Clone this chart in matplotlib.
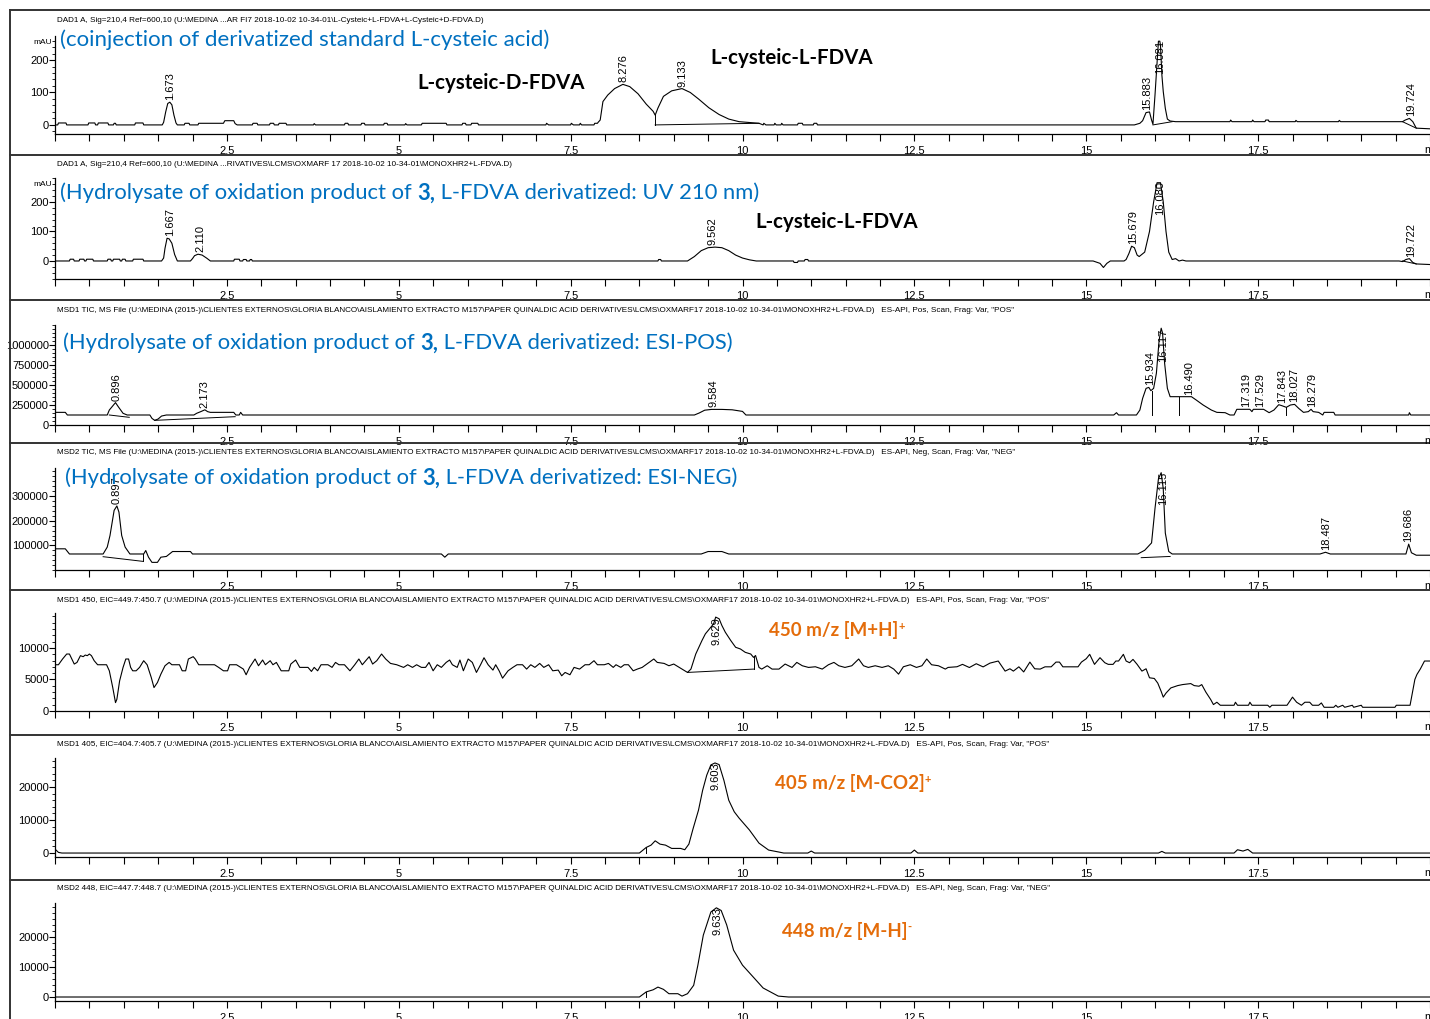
import matplotlib.pyplot as plt
from matplotlib import font_manager
from matplotlib.lines import Line2D
from matplotlib.ticker import FixedLocator, MultipleLocator

installed = {f.name for f in font_manager.fontManager.ttflist}
NARROW = 'Liberation Sans Narrow' if 'Liberation Sans Narrow' in installed else 'Liberation Sans'
HEADER_SIZE = 7 if NARROW == 'Liberation Sans Narrow' else 5.85
TITLE_FONT = ['Lato', 'DejaVu Sans']
plt.rcParams['font.family'] = [NARROW, 'DejaVu Sans']

BLUE = '#0070C0'
ORANGE = '#E46C0A'

# ---------------- data (time in min, signal) ----------------
# DAD1 A, coinjection of standards (mAU)
p1_t = [0.00, 0.04, 0.05, 0.16, 0.17, 0.48, 0.49, 0.58, 0.59, 0.62, 0.63, 0.77, 0.78, 0.85, 0.86, 0.88, 0.89,
        1.16, 1.17, 1.28, 1.29, 1.56, 1.58, 1.61, 1.64, 1.67, 1.70, 1.73, 1.76, 1.78, 1.88, 1.89, 1.95, 1.96,
        2.08, 2.09, 2.45, 2.47, 2.60, 2.62, 2.65, 2.87, 2.88, 2.94, 2.95, 3.12, 3.13, 3.18, 3.19, 3.25, 3.26,
        3.36, 3.37, 3.76, 3.77, 3.79, 4.21, 4.22, 4.26, 4.27, 4.45, 4.46, 4.50, 4.51, 4.78, 4.79, 4.83, 4.84,
        5.09, 5.10, 5.12, 5.33, 5.34, 5.69, 5.70, 5.92, 5.93, 5.97, 5.98, 6.05, 6.06, 6.15, 6.16, 7.14, 7.15,
        7.18, 7.50, 7.51, 7.54, 7.63, 7.64, 7.66, 7.84, 7.85, 7.89, 7.90, 7.93, 7.97, 8.04, 8.14, 8.26, 8.36,
        8.48, 8.60, 8.70, 8.73, 8.77, 8.85, 8.97, 9.12, 9.24, 9.36, 9.51, 9.66, 9.80, 9.95, 10.12, 10.24,
        10.30, 10.31, 10.34, 10.46, 10.47, 10.49, 10.56, 10.57, 10.59, 10.80, 10.81, 10.87, 10.88, 11.03,
        11.04, 11.08, 11.09, 15.70, 15.78, 15.82, 15.87, 15.92, 15.95, 15.97, 16.00, 16.02, 16.04, 16.05,
        16.07, 16.08, 16.10, 16.12, 16.15, 16.18, 16.22, 16.30, 17.09, 17.10, 17.12, 17.41, 17.42, 17.44,
        17.60, 17.61, 17.65, 17.66, 18.04, 18.05, 18.07, 18.67, 18.68, 18.70, 19.60, 19.64, 19.70, 19.75,
        19.80, 20.00]
p1_y = [0, 0, 6, 6, 0, 0, 6, 6, 0, 0, 6, 6, 0, 0, 5, 5, 0,
        0, 6, 6, 0, 0, 8, 40, 66, 70, 62, 30, 6, 0, 0, 5, 5, 0,
        0, 5, 5, 13, 13, 4, 0, 0, 5, 5, 0, 0, 5, 5, 0, 0, 5,
        5, 0, 0, 4, 0, 0, 5, 5, 0, 0, 5, 5, 0, 0, 5, 5, 0,
        0, 4, 0, 0, 5, 5, 0, 0, 5, 5, 0, 0, 5, 5, 0, 0, 5,
        0, 0, 5, 0, 0, 5, 0, 0, 5, 5, 8, 15, 72, 92, 112, 125, 118,
        96, 64, 42, 30, 52, 88, 105, 112, 100, 80, 53, 32, 18, 10, 7, 5,
        0, 5, 0, 0, 5, 0, 0, 5, 0, 0, 5, 5, 0, 0,
        5, 5, 0, 0, 5, 13, 38, 40, 15, 2, 92, 160, 225, 258,
        258, 245, 154, 103, 51, 18, 12, 10, 10, 15, 10, 10, 15, 10,
        10, 15, 15, 10, 10, 14, 10, 10, 14, 10, 10, 15, 20, 10,
        -10, -12]
p1_base = [(8.73, 0, 8.73, 30), (8.73, 0, 10.24, 5), (15.97, 0, 16.25, 10), (19.60, 10, 19.80, -10)]
p1_peaks = [('1.673', 1.673, 70), ('8.276', 8.276, 125), ('9.133', 9.133, 112),
            ('15.883', 15.883, 40), ('16.081', 16.081, 258), ('19.724', 19.724, 20)]

# DAD1 A, hydrolysate UV 210 nm (mAU)
p2_t = [0.00, 0.21, 0.22, 0.27, 0.28, 0.35, 0.36, 0.42, 0.43, 0.45, 0.46, 0.55, 0.56, 0.76, 0.77, 0.81, 0.82,
        0.84, 0.85, 0.94, 0.95, 0.97, 0.98, 1.02, 1.03, 1.13, 1.14, 1.28, 1.29, 1.55, 1.58, 1.60, 1.63, 1.66,
        1.70, 1.74, 1.78, 1.97, 2.00, 2.03, 2.08, 2.14, 2.21, 2.26, 2.60, 2.61, 2.68, 2.69, 2.73, 2.74, 2.78,
        2.79, 2.83, 2.84, 2.86, 2.87, 8.77, 8.78, 8.81, 8.82, 9.20, 9.30, 9.40, 9.50, 9.60, 9.70, 9.80, 9.90,
        10.00, 10.10, 10.20, 10.74, 10.75, 10.80, 10.81, 10.90, 10.91, 10.95, 10.96, 15.10, 15.20, 15.25,
        15.30, 15.35, 15.55, 15.58, 15.62, 15.66, 15.70, 15.74, 15.77, 15.85, 15.92, 15.98, 16.03, 16.08,
        16.12, 16.16, 16.20, 16.25, 16.30, 16.35, 16.40, 16.45, 19.55, 19.60, 19.65, 19.70, 19.75, 19.80,
        20.00]
p2_y = [0, 0, 6, 6, 0, 0, 6, 6, 0, 0, 6, 6, 0, 0, 6, 6, 0,
        0, 6, 6, 0, 0, 6, 6, 0, 0, 6, 6, 0, 0, 10, 43, 77, 75,
        60, 22, 0, 0, 8, 18, 23, 20, 9, 0, 0, 6, 6, 0, 0, 5, 5,
        0, 0, 5, 5, 0, 0, 5, 5, 0, 0, 15, 35, 45, 47, 45, 35, 20,
        10, 4, 0, 0, -5, -5, 0, 0, 5, 5, 0, 0, -8, -22,
        -8, 0, 0, 5, 25, 50, 45, 20, 15, 30, 100, 200, 265, 265,
        200, 100, 30, 5, 8, 0, 3, 0, 0, -2, 5, 8, -5, -10,
        -12]
p2_base = [(19.60, 0, 19.80, -10)]
p2_peaks = [('1.667', 1.667, 77), ('2.110', 2.110, 23), ('9.562', 9.562, 47),
            ('15.679', 15.679, 50), ('16.080', 16.080, 265), ('19.722', 19.722, 8)]

# MSD1 TIC, ESI-POS (counts)
p3_t = [0.00, 0.15, 0.18, 0.76, 0.79, 0.88, 0.92, 0.99, 1.05, 1.38, 1.41, 1.45, 1.50, 1.55, 1.62, 2.02, 2.06,
        2.12, 2.18, 2.22, 2.26, 2.60, 2.63, 2.68, 2.70, 2.73, 9.30, 9.37, 9.45, 9.55, 9.70, 9.85, 10.00, 10.05,
        15.40, 15.44, 15.47, 15.73, 15.78, 15.82, 15.87, 15.91, 15.94, 15.98, 16.02, 16.06, 16.09, 16.11,
        16.14, 16.18, 16.22, 16.27, 16.53, 16.60, 16.70, 16.82, 16.90, 17.02, 17.09, 17.15, 17.19, 17.38,
        17.41, 17.43, 17.58, 17.66, 17.73, 17.80, 17.85, 17.91, 17.97, 18.03, 18.09, 18.16, 18.23, 18.27,
        18.30, 18.38, 18.44, 18.46, 18.60, 18.62, 19.69, 19.70, 19.72, 20.00]
p3_y = [158000, 158000, 125000, 125000, 187000, 280000, 229000, 146000, 125000, 125000, 83000, 58000, 75000,
        112000, 125000, 125000, 146000, 167000, 190000, 167000, 158000, 158000, 125000, 125000, 158000, 125000,
        125000, 150000, 185000, 195000, 195000, 190000, 170000, 125000, 125000, 154000, 125000, 125000, 187000,
        333000, 458000, 470000, 429000, 458000, 646000, 1060000, 1210000, 1150000, 771000, 458000, 354000,
        354000, 354000, 312000, 250000, 187000, 158000, 154000, 125000, 125000, 196000, 196000, 167000,
        196000, 196000, 154000, 187000, 254000, 240000, 221000, 250000, 258000, 208000, 158000, 167000,
        196000, 167000, 158000, 125000, 158000, 158000, 125000, 125000, 154000, 125000, 125000]
p3_base = [(0.79, 125000, 1.08, 96000), (1.45, 58000, 2.62, 104000), (15.96, 125000, 15.96, 430000),
           (16.35, 125000, 16.35, 354000), (17.91, 125000, 17.91, 221000)]
p3_peaks = [('0.896', 0.896, 280000), ('2.173', 2.173, 190000), ('9.584', 9.584, 195000),
            ('15.934', 15.934, 470000), ('16.117', 16.117, 1210000), ('16.490', 16.49, 354000),
            ('17.319', 17.319, 196000), ('17.529', 17.529, 196000), ('17.843', 17.843, 254000),
            ('18.027', 18.027, 258000), ('18.279', 18.279, 196000)]

# MSD2 TIC, ESI-NEG (counts)
p4_t = [0.00, 0.15, 0.21, 0.70, 0.76, 0.80, 0.86, 0.90, 0.93, 0.97, 1.02, 1.09, 1.29, 1.32, 1.36, 1.41, 1.49,
        1.54, 1.62, 1.71, 1.97, 2.00, 5.62, 5.67, 5.72, 9.40, 9.50, 9.70, 9.80, 15.75, 15.85, 15.95, 16.00,
        16.05, 16.09, 16.12, 16.15, 16.20, 16.25, 18.40, 18.48, 18.55, 19.65, 19.69, 19.73, 19.80, 20.00]
p4_y = [86000, 86000, 65000, 65000, 93000, 140000, 242000, 260000, 235000, 140000, 93000, 65000, 65000, 79000,
        52000, 31000, 31000, 52000, 55000, 75000, 75000, 65000, 65000, 52000, 65000, 65000, 75000, 75000, 65000,
        65000, 80000, 110000, 250000, 370000, 395000, 330000, 150000, 75000, 65000, 65000, 72000, 65000,
        65000, 105000, 70000, 60000, 60000]
p4_base = [(0.70, 54000, 1.28, 35000), (1.28, 35000, 1.28, 65000), (15.80, 50000, 16.22, 55000)]
p4_peaks = [('0.897', 0.897, 260000), ('16.115', 16.115, 395000), ('18.487', 18.487, 72000),
            ('19.686', 19.686, 105000)]

# MSD1 EIC 449.7:450.7 (counts)
p5_t = [0.00, 0.05, 0.11, 0.17, 0.21, 0.24, 0.28, 0.32, 0.37, 0.41, 0.44, 0.47, 0.50, 0.53, 0.57, 0.62, 0.68,
        0.75, 0.79, 0.84, 0.88, 0.90, 0.94, 0.99, 1.03, 1.07, 1.10, 1.13, 1.18, 1.23, 1.29, 1.34, 1.40, 1.44,
        1.49, 1.54, 1.60, 1.66, 1.70, 1.77, 1.81, 1.85, 1.90, 1.94, 2.01, 2.04, 2.09, 2.19, 2.32, 2.38, 2.45,
        2.51, 2.54, 2.64, 2.74, 2.78, 2.83, 2.91, 2.96, 3.02, 3.06, 3.13, 3.17, 3.22, 3.29, 3.40, 3.43, 3.50,
        3.56, 3.68, 3.73, 3.77, 3.82, 3.87, 3.97, 4.03, 4.08, 4.13, 4.21, 4.29, 4.36, 4.42, 4.47, 4.52, 4.57,
        4.62, 4.68, 4.75, 4.81, 4.88, 4.97, 5.07, 5.13, 5.20, 5.26, 5.33, 5.39, 5.44, 5.50, 5.56, 5.62, 5.69,
        5.74, 5.78, 5.85, 5.89, 5.94, 6.01, 6.07, 6.13, 6.19, 6.24, 6.30, 6.37, 6.41, 6.46, 6.51, 6.59, 6.66,
        6.72, 6.80, 6.86, 6.92, 6.98, 7.05, 7.11, 7.18, 7.24, 7.32, 7.37, 7.42, 7.49, 7.55, 7.63, 7.71, 7.77,
        7.84, 7.89, 7.99, 8.05, 8.12, 8.16, 8.23, 8.28, 8.34, 8.41, 8.47, 8.54, 8.64, 8.71, 8.76, 8.86, 8.93,
        9.00, 9.08, 9.20, 9.25, 9.32, 9.41, 9.46, 9.54, 9.58, 9.61, 9.66, 9.70, 9.75, 9.83, 9.90, 9.97, 10.04,
        10.12, 10.16, 10.19, 10.24, 10.28, 10.36, 10.43, 10.53, 10.62, 10.72, 10.79, 10.87, 10.96, 11.06,
        11.16, 11.25, 11.33, 11.40, 11.49, 11.59, 11.69, 11.76, 11.83, 11.93, 12.03, 12.12, 12.20, 12.27,
        12.34, 12.44, 12.53, 12.61, 12.68, 12.75, 12.85, 12.95, 12.99, 13.12, 13.20, 13.30, 13.40, 13.50,
        13.60, 13.72, 13.82, 13.89, 13.94, 14.02, 14.09, 14.18, 14.25, 14.33, 14.40, 14.49, 14.56, 14.61,
        14.66, 14.88, 14.93, 15.00, 15.05, 15.12, 15.20, 15.27, 15.32, 15.39, 15.43, 15.47, 15.54, 15.58,
        15.63, 15.68, 15.74, 15.81, 15.87, 15.92, 15.99, 16.04, 16.09, 16.12, 16.16, 16.23, 16.33, 16.40,
        16.52, 16.57, 16.64, 16.68, 16.74, 16.81, 16.85, 16.90, 16.95, 17.15, 17.17, 17.20, 17.36, 17.38,
        17.41, 17.64, 17.67, 17.70, 17.92, 18.00, 18.06, 18.13, 18.18, 18.25, 18.29, 18.38, 18.42, 18.46,
        18.60, 18.63, 18.66, 18.73, 18.76, 18.87, 18.89, 19.00, 19.02, 19.49, 19.51, 19.71, 19.78, 19.81,
        19.86, 19.92, 20.00]
p5_y = [7340, 7340, 8250, 9040, 9040, 8350, 7450, 7710, 8780, 8620, 8880, 8780, 9040, 8780, 7980, 7340, 7340,
        7340, 6380, 3720, 1330, 1860, 4790, 6920, 8250, 8250, 6920, 6380, 6380, 6920, 7980, 7340, 5320, 3720,
        4520, 5850, 7180, 7710, 7340, 7340, 7340, 6380, 6380, 8250, 8620, 8250, 7340, 7340, 7340, 6920, 6380,
        6380, 7340, 7340, 6650, 5750, 6920, 8250, 7180, 8090, 7340, 7980, 7340, 7710, 6380, 6380, 7450, 8090,
        6920, 6920, 6280, 6920, 6380, 7340, 7340, 6920, 7710, 7340, 7340, 6380, 7340, 8250, 7340, 7980, 8620,
        7450, 7980, 9040, 8250, 7550, 7340, 6920, 7340, 6920, 7340, 6920, 6920, 7710, 6380, 7340, 6920, 7710,
        8090, 7340, 6920, 8090, 6380, 8250, 7710, 6120, 7340, 8450, 7340, 6490, 7340, 6380, 5210, 6380, 6920,
        7340, 7340, 6650, 7340, 6920, 7550, 6920, 7340, 6380, 6490, 5590, 6120, 5750, 6920, 6650, 7340, 7340,
        7980, 7340, 7340, 7550, 6920, 7340, 6920, 7340, 7340, 6380, 6650, 6914, 7710, 8250, 7710, 7550, 7180,
        7450, 6914, 6120, 6650, 9040, 11170, 12240, 13300, 13830, 14900, 14630, 13570, 12500, 11170, 10110,
        9840, 9310, 9040, 8510, 8800, 6914, 6650, 7180, 6650, 6650, 7450, 6914, 7710, 7180, 6914, 7020, 6650,
        7340, 7710, 7180, 6914, 7180, 8250, 7180, 6914, 7180, 6914, 7180, 6650, 5850, 7020, 7340, 6914, 7180,
        8250, 7340, 7180, 6650, 6914, 7020, 7400, 6900, 7500, 7000, 7600, 7930, 6330, 6700, 6330, 7010, 6200,
        7760, 6700, 6650, 7010, 7010, 7760, 7760, 7010, 7010, 7760, 8300, 8990, 7400, 8460, 7660, 7400, 7400,
        7930, 7930, 8990, 7930, 7660, 8190, 7400, 6330, 6700, 5270, 5160, 4430, 3100, 2200, 2840, 3660, 4030,
        4190, 4350, 4030, 3930, 4190, 2990, 1820, 1020, 1390, 910, 910, 1390, 910, 910, 1390, 910, 910, 590,
        910, 910, 2200, 1390, 910, 1390, 1390, 910, 910, 1280, 590, 590, 910, 590, 910, 590, 910, 590, 910,
        590, 590, 910, 910, 5010, 5800, 6680, 7930, 7930]
p5_base = [(9.20, 6120, 10.16, 6650), (10.16, 6650, 10.16, 8510)]
p5_peaks = [('9.629', 9.629, 14900)]

# MSD1 EIC 404.7:405.7 (counts)
p6_t = [0.00, 0.05, 0.10, 8.50, 8.60, 8.67, 8.73, 8.80, 8.88, 8.97, 9.10, 9.16, 9.22, 9.28, 9.36, 9.42, 9.48,
        9.54, 9.60, 9.66, 9.73, 9.80, 9.88, 9.95, 10.10, 10.24, 10.38, 10.53, 10.60, 10.95, 11.00, 11.05,
        12.45, 12.50, 12.55, 16.05, 16.10, 16.15, 17.15, 17.20, 17.28, 17.35, 17.42, 20.00]
p6_y = [1200, 200, 0, 0, 1700, 2400, 3700, 2700, 2400, 1400, 1400, 1000, 2700, 7300, 13000, 19000, 23600,
        26700, 27300, 26800, 22000, 16000, 12500, 10600, 7000, 3000, 900, 300, 0, 0, 600, 0,
        0, 900, 0, 0, 500, 0, 0, 1000, 600, 1100, 0, 0]
p6_base = [(8.60, 0, 8.60, 1700)]
p6_peaks = [('9.603', 9.603, 27300)]

# MSD2 EIC 447.7:448.7 (counts)
p7_t = [0.00, 8.50, 8.60, 8.70, 8.77, 8.85, 8.93, 9.06, 9.12, 9.20, 9.29, 9.35, 9.43, 9.54, 9.62, 9.69, 9.77,
        9.87, 10.00, 10.17, 10.30, 10.52, 10.67, 20.00]
p7_y = [0, 0, 1700, 2400, 3300, 2550, 1100, 1100, 300, 1100, 3900, 10500, 20600, 28300, 29700, 28800, 24000,
        15600, 10600, 6300, 3000, 300, 0, 0]
p7_base = [(8.60, 0, 8.60, 1700)]
p7_peaks = [('9.633', 9.633, 29700)]

x_ticks = [2.5, 5, 7.5, 10, 12.5, 15, 17.5]
x_tick_labels = ['2.5', '5', '7.5', '10', '12.5', '15', '17.5']

path_a = r'U:\MEDINA (2015-)\CLIENTES EXTERNOS\GLORIA BLANCO\AISLAMIENTO EXTRACTO M157\PAPER QUINALDIC ACID DERIVATIVES\LCMS\OXMARF17 2018-10-02 10-34-01\MONOXHR2+L-FDVA.D'
headers = [
    r'DAD1 A, Sig=210,4 Ref=600,10 (U:\MEDINA ...AR FI7 2018-10-02 10-34-01\L-Cysteic+L-FDVA+L-Cysteic+D-FDVA.D)',
    r'DAD1 A, Sig=210,4 Ref=600,10 (U:\MEDINA ...RIVATIVES\LCMS\OXMARF 17 2018-10-02 10-34-01\MONOXHR2+L-FDVA.D)',
    'MSD1 TIC, MS File (' + path_a + ')   ES-API, Pos, Scan, Frag: Var, "POS"',
    'MSD2 TIC, MS File (' + path_a + ')   ES-API, Neg, Scan, Frag: Var, "NEG"',
    'MSD1 450, EIC=449.7:450.7 (' + path_a + ')   ES-API, Pos, Scan, Frag: Var, "POS"',
    'MSD1 405, EIC=404.7:405.7 (' + path_a + ')   ES-API, Pos, Scan, Frag: Var, "POS"',
    'MSD2 448, EIC=447.7:448.7 (' + path_a + ')   ES-API, Neg, Scan, Frag: Var, "NEG"',
]

# ---------------- layout (pixels) ----------------
W, H = 1430, 1019
fig = plt.figure(figsize=(W / 100, H / 100), dpi=100)

panels = [
    dict(t=p1_t, y=p1_y, base=p1_base, peaks=p1_peaks, top=36, bottom=134, ylim=(-28, 274),
         yticks=[0, 100, 200], minor=20, hy=20, unit='mAU'),
    dict(t=p2_t, y=p2_y, base=p2_base, peaks=p2_peaks, top=178, bottom=279, ylim=(-61, 281),
         yticks=[0, 100, 200], minor=20, hy=164, unit='mAU'),
    dict(t=p3_t, y=p3_y, base=p3_base, peaks=p3_peaks, top=325, bottom=425, ylim=(0, 1250000),
         yticks=[0, 250000, 500000, 750000, 1000000], minor=50000, hy=310, unit=None),
    dict(t=p4_t, y=p4_y, base=p4_base, peaks=p4_peaks, top=468, bottom=570, ylim=(0, 414000),
         yticks=[100000, 200000, 300000], minor=20000, hy=453, unit=None),
    dict(t=p5_t, y=p5_y, base=p5_base, peaks=p5_peaks, top=613, bottom=711, ylim=(0, 15550),
         yticks=[0, 5000, 10000], minor=1000, hy=600, unit=None),
    dict(t=p6_t, y=p6_y, base=p6_base, peaks=p6_peaks, top=758, bottom=857, ylim=(-1200, 28800),
         yticks=[0, 10000, 20000], minor=2000, hy=745, unit=None),
    dict(t=p7_t, y=p7_y, base=p7_base, peaks=p7_peaks, top=903, bottom=1001, ylim=(-1330, 31300),
         yticks=[0, 10000, 20000], minor=2000, hy=889, unit=None),
]

axes = []
for i, p in enumerate(panels):
    ax = fig.add_axes([55 / W, 1 - p['bottom'] / H, (W - 55) / W, (p['bottom'] - p['top']) / H])
    ax.patch.set_alpha(0)
    ax.plot(p['t'], p['y'], color='black', lw=0.8)
    for t0, y0, t1, y1 in p['base']:
        ax.plot([t0, t1], [y0, y1], color='black', lw=0.7)
    ax.set_xlim(0, 20)
    ax.set_ylim(*p['ylim'])
    for s in ('top', 'right'):
        ax.spines[s].set_visible(False)
    for s in ('left', 'bottom'):
        ax.spines[s].set_linewidth(0.9)
    ax.xaxis.set_major_locator(FixedLocator(x_ticks))
    ax.set_xticklabels(x_tick_labels)
    ax.xaxis.set_minor_locator(MultipleLocator(0.5))
    ax.yaxis.set_major_locator(FixedLocator(p['yticks']))
    ax.set_yticklabels([str(v) for v in p['yticks']])
    ax.yaxis.set_minor_locator(MultipleLocator(p['minor']))
    ax.tick_params(axis='x', which='both', direction='out', length=5, width=0.8, pad=3.5, labelsize=8)
    ax.tick_params(axis='y', which='major', direction='out', length=4, width=0.8, pad=0.5, labelsize=8)
    ax.tick_params(axis='y', which='minor', direction='out', length=2, width=0.6)

    ytop = p['ylim'][1]
    span = p['ylim'][1] - p['ylim'][0]
    for lab, t, h in p['peaks']:
        if h > 0.75 * ytop:
            ax.text(t, 0.96 * ytop, lab, rotation=90, ha='center', va='top', fontsize=8)
        else:
            ax.text(t, h + 0.02 * span, lab, rotation=90, ha='center', va='bottom', fontsize=8)

    # header line and cut-off "min" unit
    fig.text(57 / W, 1 - p['hy'] / H, headers[i], fontsize=HEADER_SIZE, va='center', ha='left')
    fig.text(1424 / W, 1 - (p['bottom'] + 16) / H, 'min', fontsize=8, va='center', ha='left')
    if p['unit']:
        fig.text(33 / W, 1 - (p['top'] + 6) / H, p['unit'], fontsize=6, va='center', ha='left')
    axes.append(ax)

# panel frame lines
for yy in [10, 155, 300, 443, 590, 735, 880]:
    fig.add_artist(Line2D([10 / W, 1], [1 - yy / H] * 2, transform=fig.transFigure, color='#333333', lw=1.4))
fig.add_artist(Line2D([10 / W, 10 / W], [1 - 10 / H, 0], transform=fig.transFigure, color='#333333', lw=1.4))


def rich_text(x, y, parts, size, color):
    last = None
    for txt, weight in parts:
        if last is None:
            last = fig.text(x / W, 1 - y / H, txt, fontsize=size, color=color, fontweight=weight,
                            family=TITLE_FONT, va='center', ha='left')
        else:
            last = axes[0].annotate(txt, xy=(1, 0), xycoords=last, va='bottom', ha='left',
                                    fontsize=size, color=color, fontweight=weight, family=TITLE_FONT,
                                    annotation_clip=False)
    return last


rich_text(60, 40, [('(coinjection of derivatized standard L-cysteic acid)', 'normal')], 16, BLUE)
rich_text(60, 193, [('(Hydrolysate of oxidation product of ', 'normal'), ('3,', 'bold'),
                    (' L-FDVA derivatized: UV 210 nm)', 'normal')], 15.8, BLUE)
rich_text(63, 343, [('(Hydrolysate of oxidation product of ', 'normal'), ('3,', 'bold'),
                    (' L-FDVA derivatized: ESI-POS)', 'normal')], 15.8, BLUE)
rich_text(65, 478, [('(Hydrolysate of oxidation product of ', 'normal'), ('3,', 'bold'),
                    (' L-FDVA derivatized: ESI-NEG)', 'normal')], 15.8, BLUE)

for x, y, s in [(417, 83, 'L-cysteic-D-FDVA'), (710, 58, 'L-cysteic-L-FDVA'), (755, 222, 'L-cysteic-L-FDVA')]:
    fig.text(x / W, 1 - y / H, s, fontsize=14.8, fontweight='bold', family=TITLE_FONT, va='center', ha='left')

for x, y, s, sup in [(769, 630, '450 m/z [M+H]', '+'), (775, 783, '405 m/z [M-CO2]', '+'),
                     (782, 931, '448 m/z [M-H]', '-')]:
    main = fig.text(x / W, 1 - y / H, s, fontsize=13.5, fontweight='bold', color=ORANGE, family=TITLE_FONT,
                    va='center', ha='left')
    axes[-1].annotate(sup, xy=(1, 1), xycoords=main, va='top', ha='left', fontsize=8, fontweight='bold',
                      color=ORANGE, family=TITLE_FONT, annotation_clip=False)

fig.savefig('out.png', dpi=100)
